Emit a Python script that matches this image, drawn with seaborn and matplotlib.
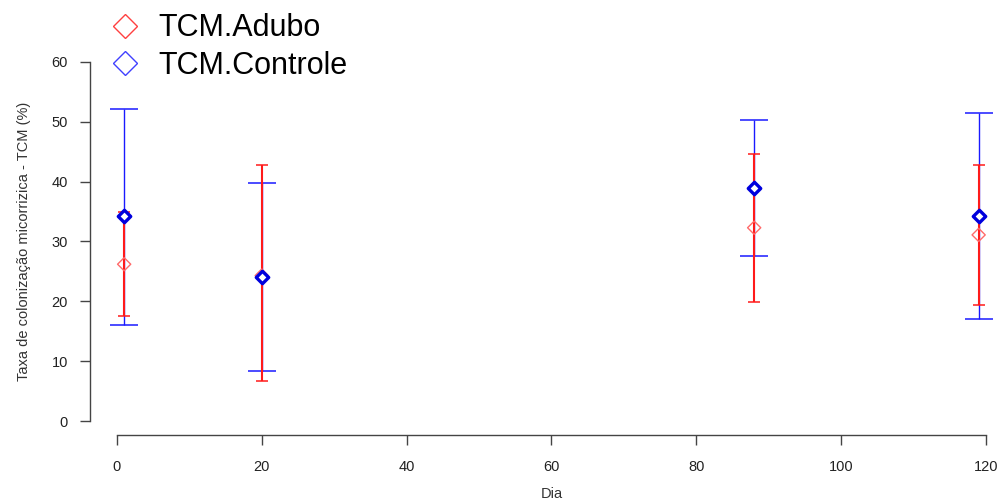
import matplotlib
matplotlib.use("Agg")
import matplotlib.pyplot as plt
import seaborn as sns
import pandas as pd
from matplotlib.lines import Line2D

dia = [1, 20, 88, 119]
adubo_mean = [26.2, 24.3, 32.3, 31.1]
adubo_low = [17.6, 6.7, 19.9, 19.4]
adubo_high = [34.9, 42.7, 44.6, 42.7]
controle_mean = [34.3, 24.0, 38.9, 34.2]
controle_low = [16.1, 8.4, 27.6, 17.0]
controle_high = [52.1, 39.7, 50.3, 51.5]
series_names = ["TCM.Adubo", "TCM.Controle"]
x_ticks = [0, 20, 40, 60, 80, 100, 120]
y_ticks = [0, 10, 20, 30, 40, 50, 60]

sns.set_style("white")
plt.rcParams["font.family"] = ["Liberation Sans", "DejaVu Sans"]

RED = "#ff1a1a"
BLUE = "#1a1aff"

adubo = pd.DataFrame({"dia": dia, "mean": adubo_mean, "low": adubo_low, "high": adubo_high})
controle = pd.DataFrame({"dia": dia, "mean": controle_mean, "low": controle_low, "high": controle_high})

fig = plt.figure(figsize=(10.02, 5.01), dpi=100)
ax = fig.add_axes([0.0898, 0.131, 0.921, 0.774])

# error bars: blue first, red on top
ax.errorbar(controle["dia"], controle["mean"],
            yerr=[controle["mean"] - controle["low"], controle["high"] - controle["mean"]],
            fmt="none", ecolor=BLUE, elinewidth=1.0, capsize=10, capthick=1.1, zorder=2)
ax.errorbar(adubo["dia"], adubo["mean"],
            yerr=[adubo["mean"] - adubo["low"], adubo["high"] - adubo["mean"]],
            fmt="none", ecolor=RED, elinewidth=1.5, capsize=4, capthick=1.1, zorder=3)

sns.scatterplot(data=adubo, x="dia", y="mean", marker="D", s=45,
                facecolor="none", edgecolor="#ff6a6a", linewidth=1.0,
                legend=False, ax=ax, zorder=4)
sns.scatterplot(data=controle, x="dia", y="mean", marker="D", s=40,
                facecolor="white", edgecolor="#0000dd", linewidth=2.4,
                legend=False, ax=ax, zorder=5)

ax.set_xlim(-3.72, 123.72)
ax.set_ylim(-2.4, 62.4)
ax.set_xticks(x_ticks)
ax.set_yticks(y_ticks)

for side in ["top", "right"]:
    ax.spines[side].set_visible(False)
ax.spines["left"].set_bounds(0, 60)
ax.spines["bottom"].set_bounds(0, 120)
for side in ["left", "bottom"]:
    ax.spines[side].set_color("#444444")
    ax.spines[side].set_linewidth(1.0)

ax.tick_params(axis="both", direction="out", length=7, width=1.0, color="#444444",
               labelsize=10.5, labelcolor="#222222", bottom=True, left=True)
ax.tick_params(axis="y", pad=9)
ax.tick_params(axis="x", pad=11)

ax.set_xlabel("Dia", fontsize=10.5, color="#333333", labelpad=9)
ax.set_ylabel("Taxa de colonização micorrizica - TCM (%)", fontsize=10.5,
              color="#333333", labelpad=15)

handles = [
    Line2D([], [], linestyle="none", marker="D", markersize=12,
           markerfacecolor="none", markeredgecolor="#ff4040", markeredgewidth=1.0),
    Line2D([], [], linestyle="none", marker="D", markersize=12,
           markerfacecolor="none", markeredgecolor="#4040ff", markeredgewidth=1.0),
]
fig.legend(handles, series_names, loc="upper left", bbox_to_anchor=(0.097, 0.998),
           frameon=False, fontsize=22, handlelength=1.0, handletextpad=0.6,
           labelspacing=0.25, borderaxespad=0.0, labelcolor="black")

fig.savefig("out.png", dpi=100)
